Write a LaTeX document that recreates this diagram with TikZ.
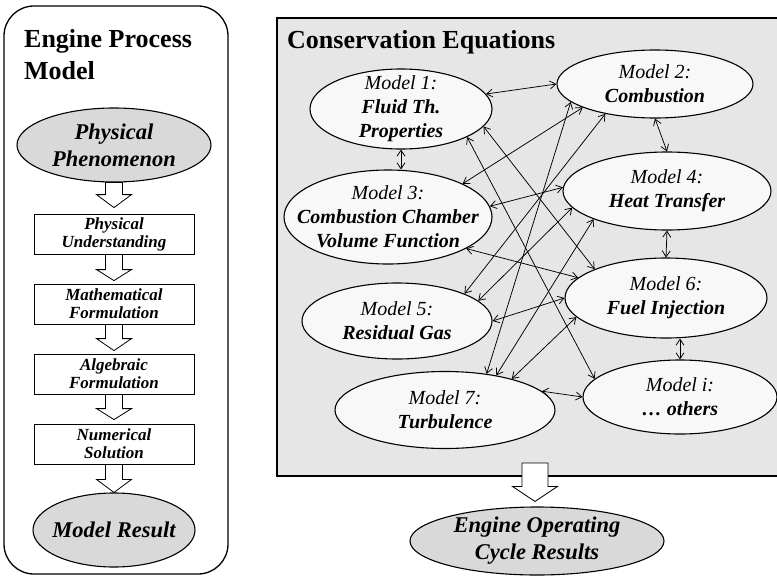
\documentclass[tikz,border=0pt]{standalone}
\usepackage{fontspec}
\setmainfont{Liberation Serif}
\usetikzlibrary{arrows.meta,shapes.geometric,calc}
\definecolor{panelgray}{HTML}{E6E6E6}
\definecolor{ellfill}{HTML}{F8F8F8}
\definecolor{darkfill}{HTML}{D9D9D9}
% block arrow: #1 start point, #2 tip point, #3 shaft half width, #4 head half width, #5 head length
\newcommand{\blockarrow}[5]{%
  \draw[blockarr] let \p1=(#1), \p2=(#2) in
    (\x1-#3pt,\y1) -- (\x1-#3pt,\y2+#5pt) -- (\x1-#4pt,\y2+#5pt) -- (\x1,\y2)
    -- (\x1+#4pt,\y2+#5pt) -- (\x1+#3pt,\y2+#5pt) -- (\x1+#3pt,\y1) -- cycle;}
\begin{document}
\begin{tikzpicture}[x=1pt,y=-1pt,
  conn/.style={line width=0.75pt, <->, >={Straight Barb[length=6pt,width=8pt]}},
  mdl/.style={ellipse, draw, line width=1.1pt, fill=ellfill, inner sep=0pt},
  hl/.style={ellipse, draw, line width=1.1pt, fill=darkfill, inner sep=0pt},
  stepbox/.style={rectangle, draw, line width=0.8pt, fill=white, minimum width=160pt,
    minimum height=40pt, inner sep=0pt, align=center,
    font=\fontsize{17}{18}\selectfont\bfseries\itshape},
  lbl/.style={align=center, inner sep=0pt, font=\fontsize{20}{24}\selectfont},
  biglbl/.style={align=center, inner sep=0pt, font=\fontsize{22.5}{27}\selectfont\bfseries\itshape},
  ttl/.style={anchor=base west, inner sep=0pt, font=\fontsize{26}{32}\selectfont\bfseries},
  blockarr/.style={draw, line width=0.8pt, fill=white, line join=miter},
]
\useasboundingbox (0,0) rectangle (777,576);

% ---------- left panel ----------
\draw[line width=1.3pt, rounded corners=30pt] (4,6) rectangle (228,574);
\node[ttl] (t1) at (24,47) {Engine Process};
\node[ttl] (t2) at (24,79) {Model};

\node[hl, minimum width=194pt, minimum height=74pt] (pp) at (114,145) {};
\node[biglbl] at (pp) {Physical\\Phenomenon};

\node[stepbox] (b1) at (114,234) {Physical\\Understanding};
\node[stepbox] (b2) at (114,304) {Mathematical\\Formulation};
\node[stepbox] (b3) at (114,374) {Algebraic\\Formulation};
\node[stepbox] (b4) at (114,444) {Numerical\\Solution};

\node[hl, minimum width=162pt, minimum height=74pt] (mr) at (114,530) {};
\node[biglbl] at (mr) {Model Result};

\blockarrow{pp.south}{$(b1.north)+(0,-6)$}{8.5}{17.5}{13}
\blockarrow{b1.south}{$(b2.north)+(0,-3)$}{8.5}{17.5}{11}
\blockarrow{b2.south}{$(b3.north)+(0,-3)$}{8.5}{17.5}{12}
\blockarrow{b3.south}{$(b4.north)+(0,-4)$}{8.5}{17.5}{11}
\blockarrow{b4.south}{$(mr.north)+(0,0)$}{8.5}{17.5}{13}

% ---------- right panel ----------
\draw[line width=1.1pt, fill=panelgray] (277,18) rectangle (800,476);
\node[ttl] (t3) at (287,48) {Conservation Equations};

\node[mdl, minimum width=182pt, minimum height=80pt] (m1) at (401,109) {};
\node[lbl] at (m1) {\itshape Model 1:\\\bfseries\itshape Fluid Th.\\\bfseries\itshape Properties};
\node[mdl, minimum width=196pt, minimum height=68pt] (m2) at (655,84) {};
\node[lbl] at (m2) {\itshape Model 2:\\\bfseries\itshape Combustion};
\node[mdl, minimum width=208pt, minimum height=94pt] (m3) at (388,217) {};
\node[lbl] at (m3) {\itshape Model 3:\\\bfseries\itshape Combustion Chamber\\\bfseries\itshape Volume Function};
\node[mdl, minimum width=208pt, minimum height=78pt] (m4) at (667,191) {};
\node[lbl] at (m4) {\itshape Model 4:\\\bfseries\itshape Heat Transfer};
\node[mdl, minimum width=190pt, minimum height=76pt] (m5) at (397,321) {};
\node[lbl] at (m5) {\itshape Model 5:\\\bfseries\itshape Residual Gas};
\node[mdl, minimum width=202pt, minimum height=80pt] (m6) at (666,298) {};
\node[lbl] at (m6) {\itshape Model 6:\\\bfseries\itshape Fuel Injection};
\node[mdl, minimum width=220pt, minimum height=77pt] (m7) at (445,410) {};
\node[lbl] at (m7) {\itshape Model 7:\\\bfseries\itshape Turbulence};
\node[mdl, minimum width=194pt, minimum height=74pt] (mi) at (680,397) {};
\node[lbl] at (mi) {\itshape Model i:\\\bfseries\itshape \dots{} others};

% connectors
\draw[conn] (m1.10) -- (m2.180);
\draw[conn] (m1.south) -- (m1.south |- m3.north);
\draw[conn] (m2.south) -- (m4.north);
\draw[conn] (m4.south) -- (m6.north);
\draw[conn] (mi.north |- m6.south) -- (mi.north);
\draw[conn] (m7.11) -- (mi.180);
\draw[conn] (m1.-12) -- (m6.158);
\draw[conn] (m1.-23) -- (mi.168);
\draw[conn] (m3.24) -- (m2.198);
\draw[conn] (m3.6) -- (m4.178);
\draw[conn] (m3.-22) -- (m6.167);
\draw[conn] (m5.22) -- (m2.211);
\draw[conn] (m5.14) -- (m4.190);
\draw[conn] (m5.0) -- (m6.180);
\draw[conn] (m7.41) -- (m2.192);
\draw[conn] (m7.34) -- (m4.201);
\draw[conn] (m7.25) -- (m6.192);

% result
\node[hl, minimum width=254pt, minimum height=68pt] (eo) at (537,541) {};
\node[biglbl] at (eo) {Engine Operating\\Cycle Results};
\coordinate (cs) at (535,463);
\blockarrow{cs}{$(eo.north)+(0,-5)$}{13}{22.5}{15}
\end{tikzpicture}
\end{document}
